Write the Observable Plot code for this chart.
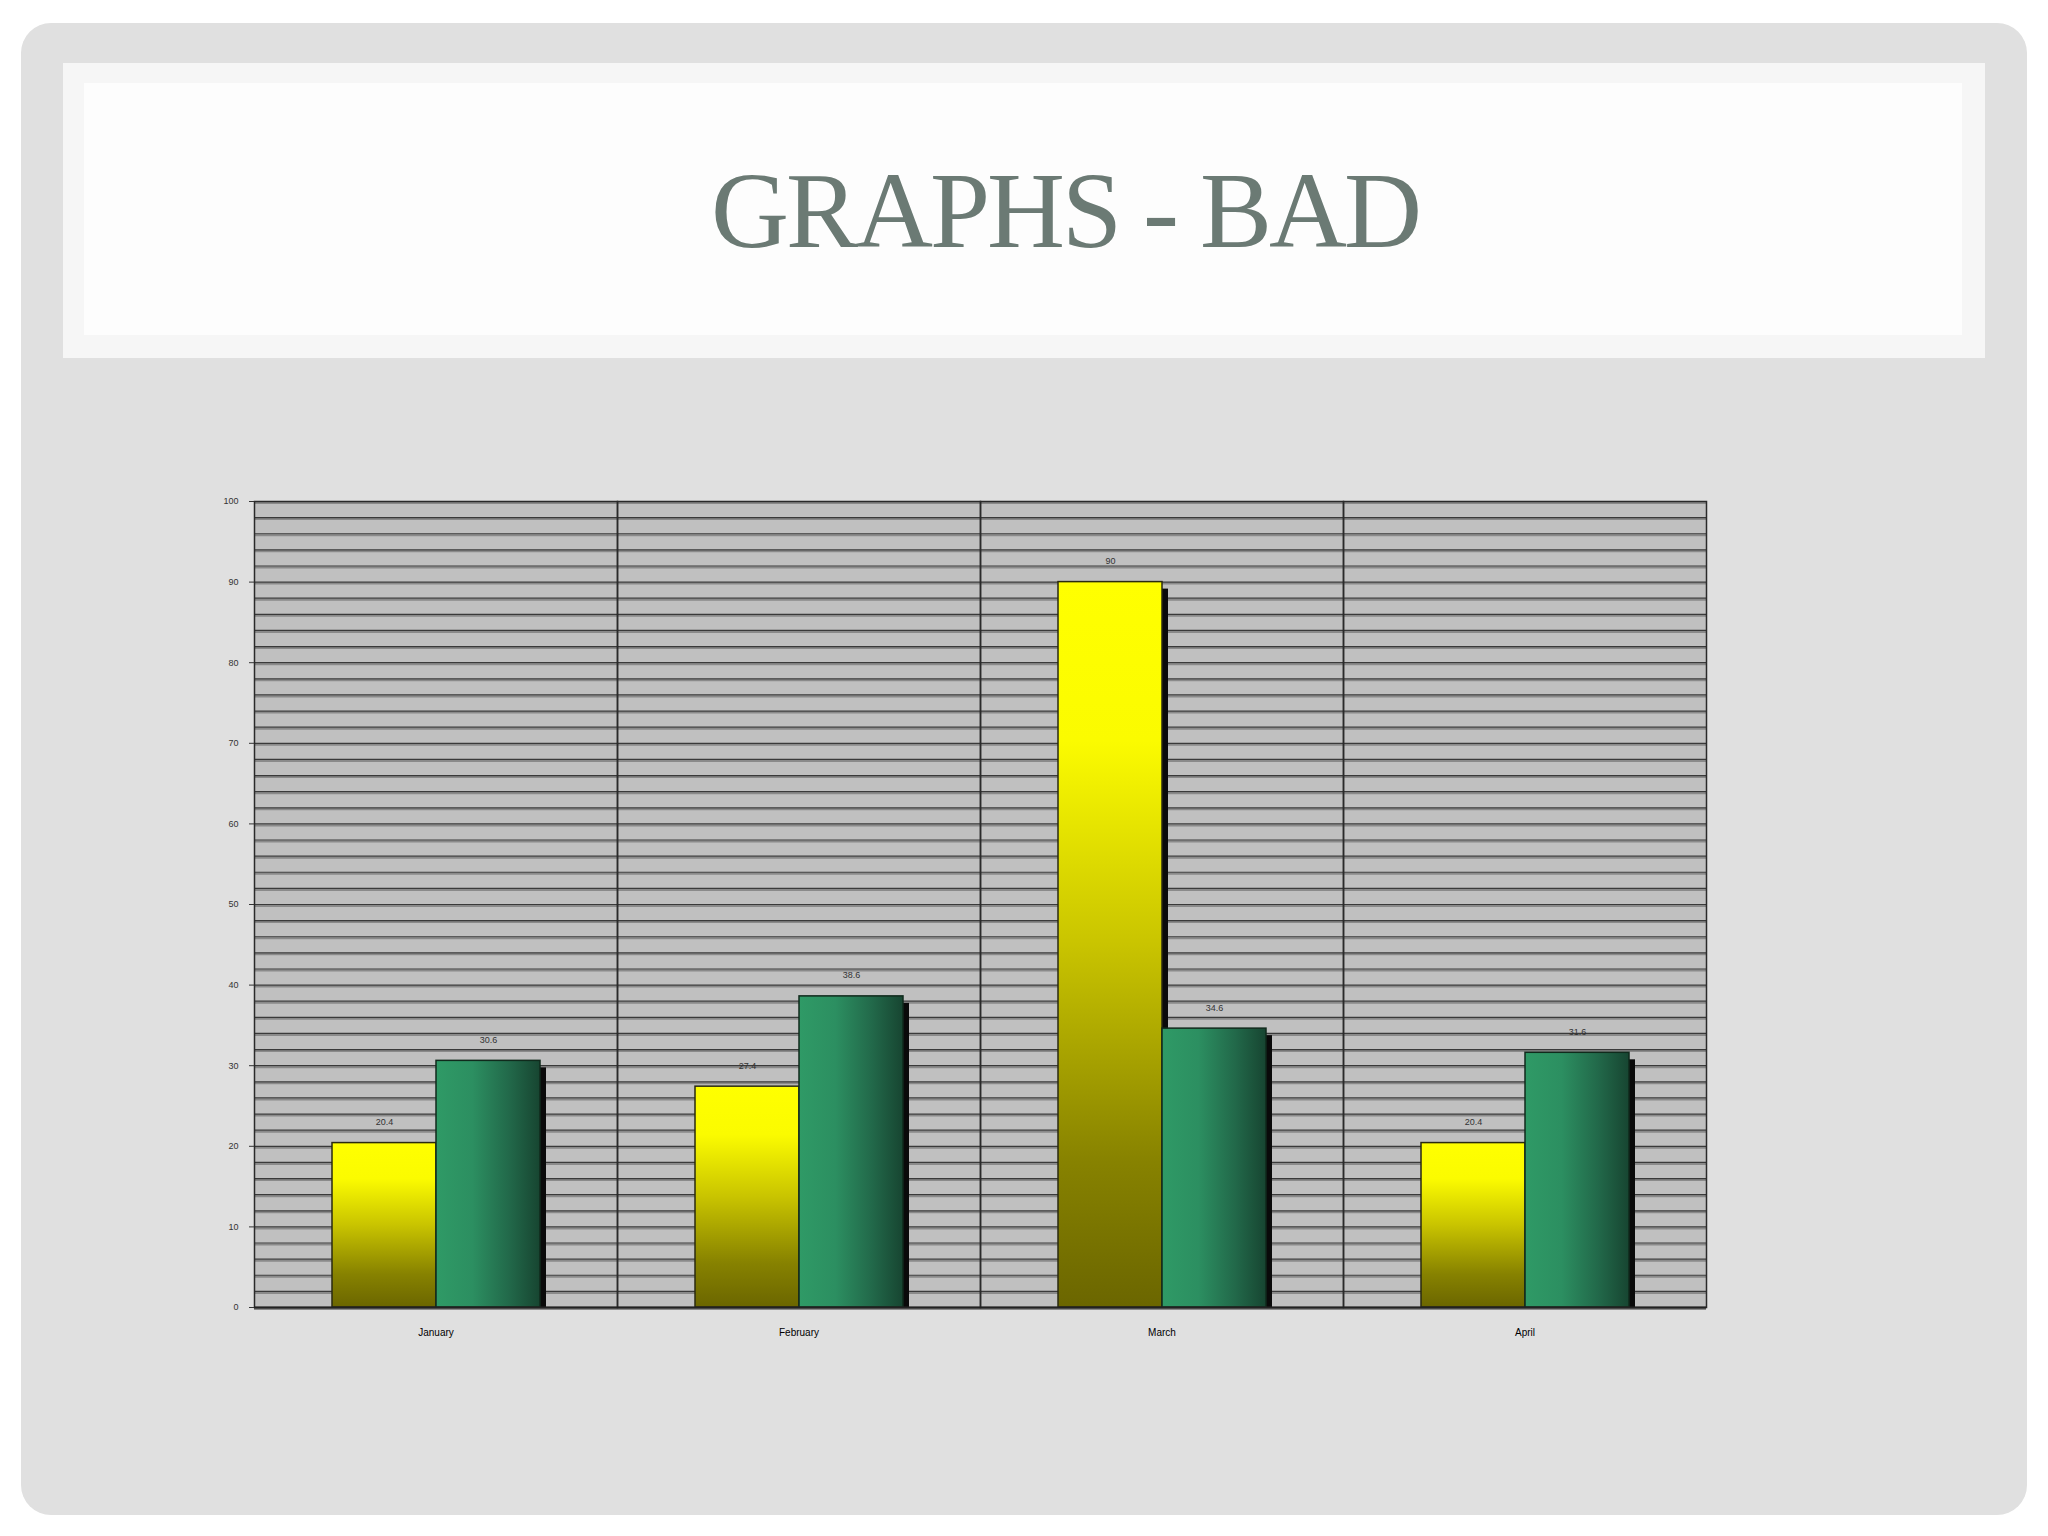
<!DOCTYPE html>
<html>
<head>
<meta charset="utf-8">
<script src="https://cdn.jsdelivr.net/npm/d3@7"></script>
<script src="https://cdn.jsdelivr.net/npm/@observablehq/plot@0.6"></script>
<style>
  html, body { margin: 0; padding: 0; background: #ffffff; }
  #page { position: relative; width: 2048px; height: 1536px; overflow: hidden; }
  #slide { position: absolute; left: 21px; top: 23px; width: 2006px; height: 1492px; border-radius: 30px; background: #e0e0e0; }
  #titleOuter { position: absolute; left: 63px; top: 63px; width: 1922px; height: 295px; background: #f6f6f6; }
  #titleInner { position: absolute; left: 84px; top: 83px; width: 1878px; height: 252px; background: #fdfdfd; }
  #title { position: absolute; left: 1065px; top: 157px; transform: translateX(-50%); white-space: nowrap;
           font-family: "Liberation Serif", "DejaVu Serif", serif; font-size: 108px; line-height: 108px;
           letter-spacing: -3px; color: #6b7a74; }
  #chart { position: absolute; left: 0; top: 440px; }
  #chart svg { font-family: "Liberation Sans", Arial, sans-serif; }
</style>
</head>
<body>
<div id="page">
  <div id="slide"></div>
  <div id="titleOuter"></div>
  <div id="titleInner"></div>
  <div id="title">GRAPHS - BAD</div>
  <div id="chart"></div>
</div>
<script>
// ---- data ----
const months = ["January", "February", "March", "April"];
const seriesKeys = ["A", "B"];
const seriesA = [20.4, 27.4, 90, 20.4];
const seriesB = [30.6, 38.6, 34.6, 31.6];
const labelsA = ["20.4", "27.4", "90", "20.4"];
const labelsB = ["30.6", "38.6", "34.6", "31.6"];
const yTicks = [0, 10, 20, 30, 40, 50, 60, 70, 80, 90, 100];
const gridLines = d3.range(0, 101, 2);

const rowsA = months.map((m, i) => ({month: m, series: "A", value: seriesA[i], label: labelsA[i]}));
const rowsB = months.map((m, i) => ({month: m, series: "B", value: seriesB[i], label: labelsB[i]}));

const svg = Plot.plot({
  width: 2048,
  height: 960,
  marginLeft: 252,
  marginRight: 341,
  marginTop: 61,
  marginBottom: 93,
  style: {background: "transparent", fontFamily: "Liberation Sans, Arial, sans-serif"},
  fx: {domain: months, paddingInner: 0, paddingOuter: 0, axis: "bottom", label: null, tickSize: 0, tickPadding: 21, fontSize: 10},
  x: {domain: seriesKeys, paddingInner: 0, paddingOuter: 0.74, axis: null},
  y: {domain: [0, 100], axis: null, label: null},
  marks: [
    Plot.frame({fill: "#c0c0c0", stroke: null}),
    Plot.ruleY(gridLines, {stroke: "#8a8a8a", strokeWidth: 2, dy: 1.5}),
    Plot.ruleY(gridLines, {stroke: "#3a3a3a", strokeWidth: 1.2}),
    Plot.frame({stroke: "#2a2a2a", strokeWidth: 1.5}),
    Plot.barY(rowsA, {fx: "month", x: "series", y: "value", fill: "#0a0a0a", dx: 6, dy: 7, clip: true}),
    Plot.barY(rowsA, {fx: "month", x: "series", y: "value", fill: "url(#gradYellow)", stroke: "#2a2a10", strokeWidth: 1.5}),
    Plot.barY(rowsB, {fx: "month", x: "series", y: "value", fill: "#0a0a0a", dx: 6, dy: 7, clip: true}),
    Plot.barY(rowsB, {fx: "month", x: "series", y: "value", fill: "url(#gradGreen)", stroke: "#102a1c", strokeWidth: 1.5}),
    Plot.text(rowsA.concat(rowsB), {fx: "month", x: "series", y: "value", text: "label", dy: -21, fontSize: 9, fill: "#333"}),
    Plot.ruleY([0], {stroke: "#222", strokeWidth: 2}),
    Plot.axisY({ticks: yTicks, tickSize: 5, tickPadding: 11, fontSize: 9, color: "#333", label: null})
  ]
});

d3.select(svg).insert("defs", ":first-child").html(`
  <linearGradient id="gradYellow" x1="0" y1="0" x2="0" y2="1">
    <stop offset="0" stop-color="#ffff00"/>
    <stop offset="0.22" stop-color="#fbfb00"/>
    <stop offset="0.5" stop-color="#c9c400"/>
    <stop offset="0.8" stop-color="#878200"/>
    <stop offset="1" stop-color="#6b6600"/>
  </linearGradient>
  <linearGradient id="gradGreen" x1="0" y1="0" x2="1" y2="0">
    <stop offset="0" stop-color="#2f9a66"/>
    <stop offset="0.35" stop-color="#2c8f61"/>
    <stop offset="0.7" stop-color="#22694a"/>
    <stop offset="1" stop-color="#174531"/>
  </linearGradient>
`);

document.getElementById("chart").appendChild(svg);
</script>
</body>
</html>
